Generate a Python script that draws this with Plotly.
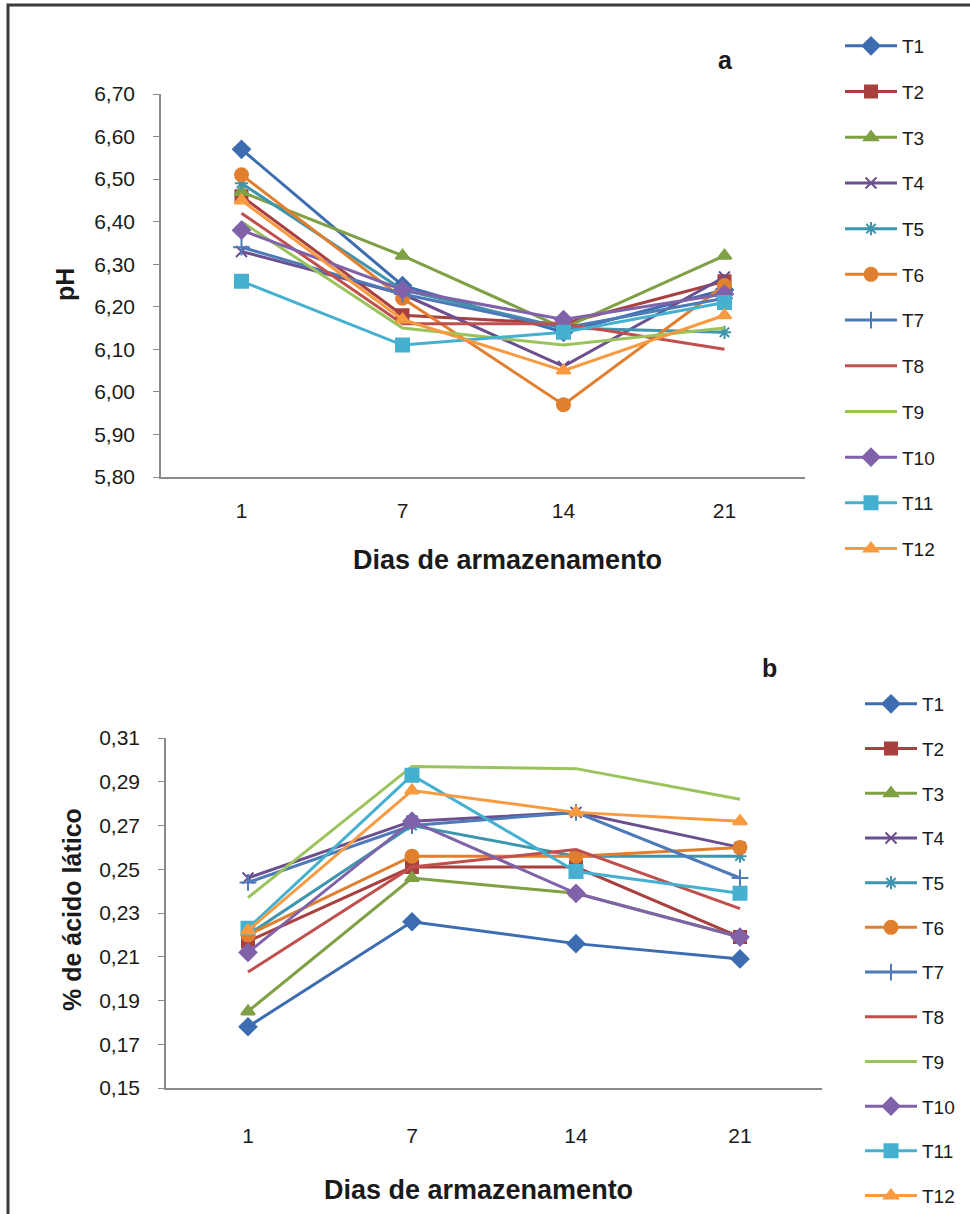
import plotly.graph_objects as go

days = ["1", "7", "14", "21"]
names = ["T1", "T2", "T3", "T4", "T5", "T6", "T7", "T8", "T9", "T10", "T11", "T12"]

# pH values (panel a)
ph_t1 = [6.57, 6.25, 6.14, 6.24]
ph_t2 = [6.46, 6.18, 6.16, 6.26]
ph_t3 = [6.47, 6.32, 6.15, 6.32]
ph_t4 = [6.33, 6.23, 6.06, 6.27]
ph_t5 = [6.49, 6.24, 6.15, 6.14]
ph_t6 = [6.51, 6.22, 5.97, 6.25]
ph_t7 = [6.34, 6.23, 6.15, 6.22]
ph_t8 = [6.42, 6.16, 6.16, 6.10]
ph_t9 = [6.40, 6.15, 6.11, 6.15]
ph_t10 = [6.38, 6.24, 6.17, 6.23]
ph_t11 = [6.26, 6.11, 6.14, 6.21]
ph_t12 = [6.45, 6.17, 6.05, 6.18]

# % lactic acid (panel b)
ac_t1 = [0.178, 0.226, 0.216, 0.209]
ac_t2 = [0.217, 0.251, 0.251, 0.219]
ac_t3 = [0.185, 0.246, 0.239, 0.219]
ac_t4 = [0.246, 0.272, 0.276, 0.260]
ac_t5 = [0.220, 0.270, 0.256, 0.256]
ac_t6 = [0.220, 0.256, 0.256, 0.260]
ac_t7 = [0.244, 0.270, 0.276, 0.246]
ac_t8 = [0.203, 0.251, 0.259, 0.232]
ac_t9 = [0.237, 0.297, 0.296, 0.282]
ac_t10 = [0.212, 0.272, 0.239, 0.219]
ac_t11 = [0.223, 0.293, 0.249, 0.239]
ac_t12 = [0.222, 0.286, 0.276, 0.272]

ph_series = [ph_t1, ph_t2, ph_t3, ph_t4, ph_t5, ph_t6, ph_t7, ph_t8, ph_t9, ph_t10, ph_t11, ph_t12]
ac_series = [ac_t1, ac_t2, ac_t3, ac_t4, ac_t5, ac_t6, ac_t7, ac_t8, ac_t9, ac_t10, ac_t11, ac_t12]

ph_ticks = [5.80, 5.90, 6.00, 6.10, 6.20, 6.30, 6.40, 6.50, 6.60, 6.70]
ac_ticks = [0.15, 0.17, 0.19, 0.21, 0.23, 0.25, 0.27, 0.29, 0.31]

colors = ["#3D6DB0", "#A8403F", "#7FA044", "#6B4F8E", "#3E95AE", "#E0802F",
          "#4E7AB8", "#C0504D", "#9BC35B", "#8062AA", "#45B0CF", "#F89B40"]
symbols = ["diamond", "square", "triangle-up", "x-thin-open", "asterisk-open", "circle",
           "cross-thin-open", None, None, "diamond", "square", "triangle-up"]
msizes = [13, 12, 12, 11, 11, 13, 12, 0, 0, 13, 13, 12]

W, H = 970, 1214
FONT = "Liberation Sans"

fig = go.Figure()

for i, nm in enumerate(names):
    for series, xa, ya, leg in ((ph_series, "x", "y", "legend"), (ac_series, "x2", "y2", "legend2")):
        sym = symbols[i]
        mode = "lines+markers" if sym else "lines"
        marker = dict(color=colors[i], size=msizes[i])
        if sym:
            marker["symbol"] = sym
            marker["line"] = dict(color=colors[i], width=2)
        fig.add_trace(go.Scatter(
            x=days, y=series[i], name=nm, mode=mode,
            line=dict(color=colors[i], width=3),
            marker=marker,
            xaxis=xa, yaxis=ya, legend=leg,
            legendgroup=nm + leg,
        ))

axis_line = "#8A8A8A"

fig.update_layout(
    template="none",
    width=W, height=H,
    margin=dict(l=0, r=0, t=0, b=0, autoexpand=False),
    paper_bgcolor="white", plot_bgcolor="white",
    separators=", ",
    font=dict(family=FONT, size=20, color="#1A1A1A"),
    xaxis=dict(domain=[161 / W, 805 / W], anchor="y", type="category", automargin=False,
               range=[-0.5, 3.5], showline=True, linecolor=axis_line, linewidth=1.5,
               showgrid=False, ticks="", tickfont=dict(size=21), ticklabelstandoff=14),
    yaxis=dict(domain=[1 - 477 / H, 1 - 94 / H], anchor="x", range=[5.80, 6.70], automargin=False,
               tickvals=ph_ticks, tickformat=".2f", showline=True, linecolor=axis_line,
               linewidth=1.5, showgrid=False, ticks="outside", ticklen=6, tickcolor=axis_line,
               tickfont=dict(size=21), ticklabelstandoff=14, zeroline=False),
    xaxis2=dict(domain=[166 / W, 822 / W], anchor="y2", type="category", automargin=False,
                range=[-0.5, 3.5], showline=True, linecolor=axis_line, linewidth=1.5,
                showgrid=False, ticks="", tickfont=dict(size=21), ticklabelstandoff=28),
    yaxis2=dict(domain=[1 - 1088 / H, 1 - 738 / H], anchor="x2", range=[0.15, 0.31], automargin=False,
                tickvals=ac_ticks, tickformat=".2f", showline=True, linecolor=axis_line,
                linewidth=1.5, showgrid=False, ticks="outside", ticklen=6, tickcolor=axis_line,
                tickfont=dict(size=21), ticklabelstandoff=14, zeroline=False),
    legend=dict(x=840 / W, y=1 - 27 / H, xanchor="left", yanchor="top",
                tracegroupgap=18, itemwidth=52, font=dict(size=19),
                bgcolor="rgba(0,0,0,0)", borderwidth=0),
    legend2=dict(x=860 / W, y=1 - 685 / H, xanchor="left", yanchor="top",
                 tracegroupgap=17, itemwidth=52, font=dict(size=19),
                 bgcolor="rgba(0,0,0,0)", borderwidth=0),
    showlegend=True,
)

annotations = [
    dict(text="<b>Dias de armazenamento</b>", x=507 / W, y=1 - 560 / H, font=dict(size=27)),
    dict(text="<b>Dias de armazenamento</b>", x=478 / W, y=1 - 1190 / H, font=dict(size=27)),
    dict(text="<b>pH</b>", x=65 / W, y=1 - 285 / H, textangle=-90, font=dict(size=25)),
    dict(text="<b>% de ácido lático</b>", x=72 / W, y=1 - 910 / H, textangle=-90, font=dict(size=25)),
    dict(text="<b>a</b>", x=725 / W, y=1 - 60 / H, font=dict(size=25)),
    dict(text="<b>b</b>", x=769 / W, y=1 - 668 / H, font=dict(size=25)),
]
for a in annotations:
    a.update(xref="paper", yref="paper", showarrow=False, xanchor="center", yanchor="middle")
fig.update_layout(annotations=annotations)

fig.add_shape(type="rect", xref="paper", yref="paper",
              x0=8 / W, x1=1.02, y0=-0.02, y1=1 - 5 / H,
              line=dict(color="#3A3A3A", width=3), fillcolor="rgba(0,0,0,0)", layer="above")

fig.write_html("out.html")
